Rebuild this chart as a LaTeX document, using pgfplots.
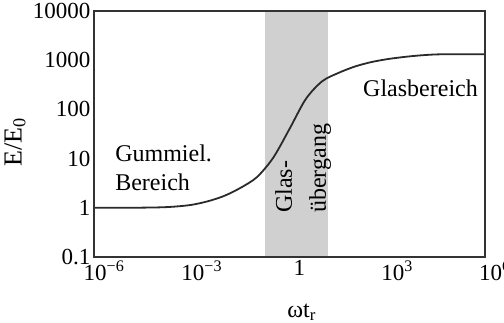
\documentclass[border=0pt]{standalone}
\usepackage{fontspec}
\setmainfont{Liberation Serif}
\usepackage{pgfplots}
\pgfplotsset{compat=1.18}
\definecolor{bandgray}{HTML}{D0D0D0}
\definecolor{curvegray}{HTML}{2A2A2A}
\begin{document}
\begin{tikzpicture}
\begin{axis}[
  xmode=log, ymode=log,
  scale only axis,
  width=391pt, height=246pt,
  xmin=1e-6, xmax=1e6, ymin=0.1, ymax=10000,
  axis on top,
  axis line style={draw=black!80, line width=1.1pt},
  major tick length=0pt, minor tick length=0pt,
  xtick={1e-6,1e-3,1,1e3,1e6},
  xticklabels={10\textsuperscript{−6},10\textsuperscript{−3},1,10\textsuperscript{3},10\textsuperscript{6}},
  ytick={0.1,1,10,100,1000,10000},
  yticklabels={0.1,1,10,100,1000,10000},
  tick label style={font=\fontsize{23}{26}\selectfont},
  xticklabel style={xshift=10pt},
  xlabel={ωt\textsubscript{r}},
  ylabel={E/E\textsubscript{0}},
  xlabel style={font=\fontsize{24}{28}\selectfont, at={(axis description cs:0.531,-0.244)}, anchor=base},
  ylabel style={font=\fontsize{26}{30}\selectfont, at={(axis description cs:-0.202,0.467)}, anchor=center},
]
% glass transition band
\addplot[fill=bandgray, draw=none] coordinates {
  (0.178,0.1) (15.1,0.1) (15.1,10000) (0.178,10000)} -- cycle;
% modulus curve
\addplot[curvegray, line width=1.8pt, smooth, tension=0.5] coordinates {
  (1e-6,1) (1e-5,1.0) (1e-4,1.02) (3.16e-4,1.06) (1e-3,1.15) (3.16e-3,1.36)
  (0.01,1.75) (0.0316,2.55) (0.1,4.2) (0.316,10.4) (1,40) (3.16,162)
  (10,372) (31.6,550) (100,741) (316,912) (1000,1050) (3162,1160)
  (1e4,1250) (31623,1310) (1e5,1320) (1e6,1320)
};
\node[anchor=north west, inner sep=0pt, align=left, font=\fontsize{24}{29}\selectfont]
  at (rel axis cs:0.054,0.455) {Gummiel.\\Bereich};
\node[anchor=north west, inner sep=0pt, align=left, font=\fontsize{24}{29}\selectfont]
  at (rel axis cs:0.688,0.72) {Glasbereich};
\node[anchor=north west, rotate=90, inner sep=0pt, align=left, font=\fontsize{24}{34}\selectfont]
  at (rel axis cs:0.463,0.179) {Glas-\\übergang};
\end{axis}
\pgfresetboundingbox
\path ([shift={(-94pt,-66pt)}]current axis.south west) rectangle ([shift={(19pt,11pt)}]current axis.north east);
\end{tikzpicture}
\end{document}
